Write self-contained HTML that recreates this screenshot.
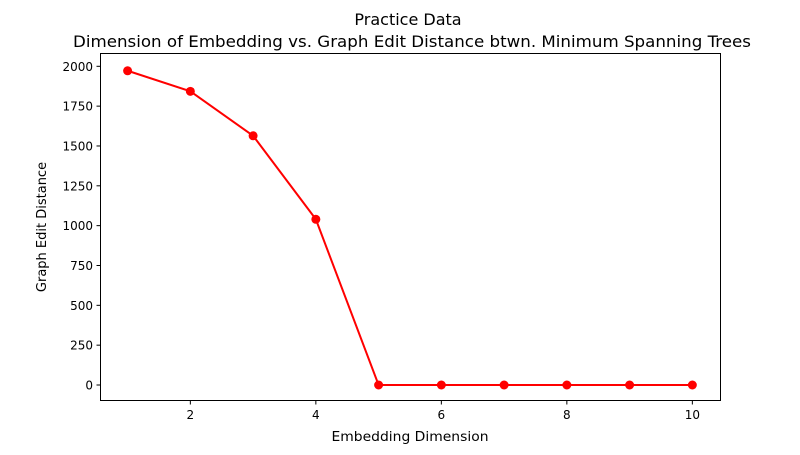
<!DOCTYPE html>
<html><head><meta charset="utf-8"><style>
body{margin:0;background:#fff;font-family:"Liberation Sans","DejaVu Sans",sans-serif}
svg text{font-family:"DejaVu Sans","Liberation Sans",sans-serif;fill:#000}
</style></head><body>
<svg id="chart" width="800" height="450" xmlns="http://www.w3.org/2000/svg">
<rect width="800" height="450" fill="#fff"/>
<text x="408" y="25" font-size="16" text-anchor="middle">Practice Data</text>
<text x="412" y="47" font-size="16" text-anchor="middle" textLength="678" lengthAdjust="spacingAndGlyphs">Dimension of Embedding vs. Graph Edit Distance btwn. Minimum Spanning Trees</text>
<g id="ticks"></g>
<g id="marks"></g>
<rect x="100.5" y="53.5" width="620" height="347" fill="none" stroke="#000" stroke-width="1"/>
<text x="410" y="441" font-size="13" text-anchor="middle" textLength="157" lengthAdjust="spacingAndGlyphs">Embedding Dimension</text>
<text x="0" y="0" font-size="13" text-anchor="middle" transform="translate(46,227) rotate(-90)">Graph Edit Distance</text>
</svg>
<script>
const dims = [1,2,3,4,5,6,7,8,9,10];
const ged = [1972,1843,1564,1040,0,0,0,0,0,0];
const xTicks = [2,4,6,8,10];
const yTicks = [0,250,500,750,1000,1250,1500,1750,2000];
const NS="http://www.w3.org/2000/svg";
function sx(v){return 127.6+(v-1)*62.75;}
function sy(v){return 385-v*0.15935;}
function mk(t,a,p){const e=document.createElementNS(NS,t);for(const k in a)e.setAttribute(k,a[k]);p.appendChild(e);return e;}
const tg=document.getElementById('ticks'), mg=document.getElementById('marks');
xTicks.forEach(v=>{
  const l=mk('line',{x1:sx(v),x2:sx(v),y1:401,y2:404.5,stroke:'#000'},tg);
  
  
  const t=mk('text',{x:sx(v),y:419,'font-size':12,'text-anchor':'middle'},tg);t.textContent=v;
  
  
});
yTicks.forEach(v=>{
  const l=mk('line',{x1:96.5,x2:100.5,y1:sy(v),y2:sy(v),stroke:'#000'},tg);
  
  
  const t=mk('text',{x:93,y:sy(v)+4.5,'font-size':12,'text-anchor':'end'},tg);t.textContent=v;
  
  
});
const pl=mk('polyline',{points:dims.map((d,i)=>sx(d)+','+sy(ged[i])).join(' '),fill:'none',stroke:'#ff0000','stroke-width':2},mg);


dims.forEach((d,i)=>{
  const c=mk('circle',{cx:sx(d),cy:sy(ged[i]),r:4.5,fill:'#ff0000'},mg);
  
  
});
</script>
</body></html>
